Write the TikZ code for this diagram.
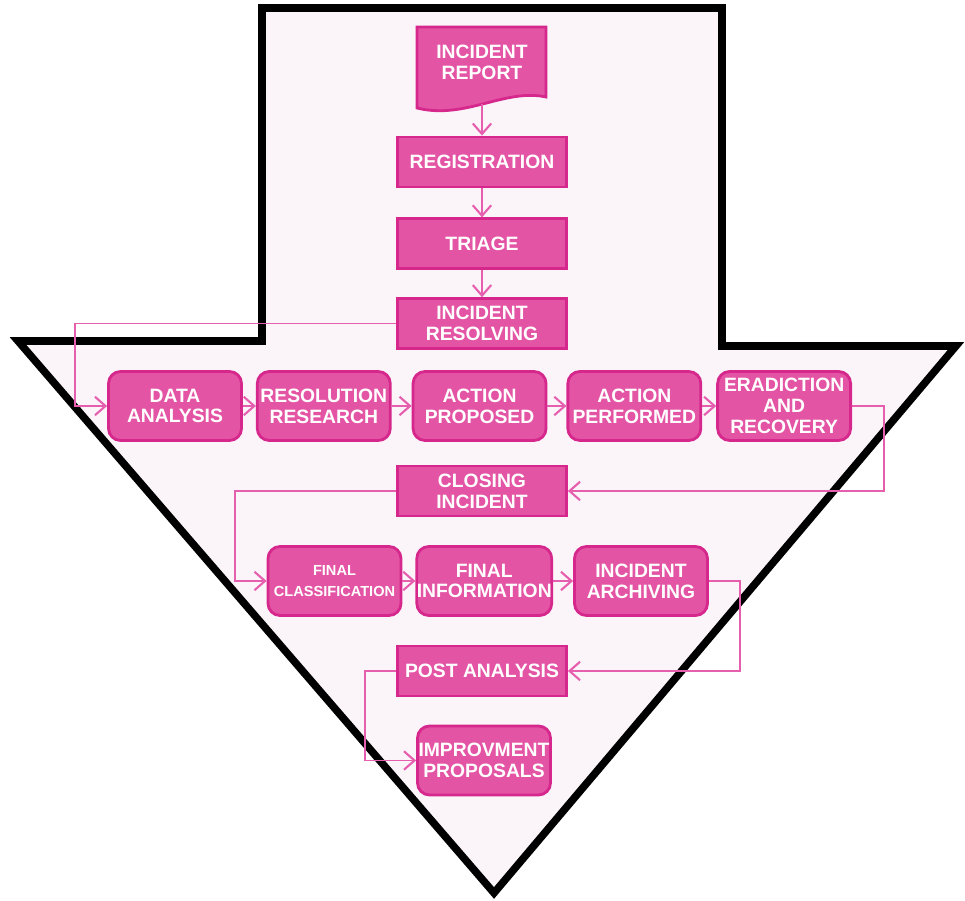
\documentclass[tikz,border=0pt]{standalone}
\usepackage{fontspec}
\setmainfont{Liberation Sans}
\usepackage{xcolor}
\usepackage{tikz}
\usetikzlibrary{arrows.meta,positioning}
\definecolor{boxfill}{RGB}{228,84,164}
\definecolor{boxline}{RGB}{214,40,140}
\definecolor{flowline}{RGB}{230,95,175}
\definecolor{arrowbg}{RGB}{251,245,250}

\begin{document}
\begin{tikzpicture}[x=0.02cm, y=-0.02cm, >={Straight Barb[length=6pt,width=10.5pt,line width=1.2pt]}]

\tikzstyle{stage} = [draw=boxline, fill=boxfill, line width=1.6pt, text=white, font=\bfseries\fontsize{11}{11.8}\selectfont, align=center, minimum width=3.38cm, minimum height=1cm, inner xsep=0pt, inner ysep=1pt]
\tikzstyle{phase} = [stage, rounded corners=0.24cm, minimum width=2.66cm, minimum height=1.38cm]
\tikzstyle{flow} = [draw=flowline, line width=0.7pt]

\useasboundingbox (0,0) rectangle (965,901);

% big down arrow behind everything
\draw [line width=4.3pt, fill=arrowbg, line join=miter] (262,8) -- (722,8) -- (722,346) -- (956,346) -- (494,893) -- (18,341) -- (262,341) -- cycle;

% incident report (document shape)
\filldraw [draw=boxline, fill=boxfill, line width=1.6pt] (417,27) -- (546,27) -- (546,97) .. controls (505,88) and (465,120) .. (417,108) -- cycle;
\node [text=white, font=\bfseries\fontsize{11}{11.8}\selectfont, align=center, minimum width=2.58cm, minimum height=1.4cm] (report) at (482,62) {INCIDENT\\REPORT};

\node [stage] (registration) at (482,162) {REGISTRATION};
\node [stage, below = 0.58cm of registration] (triage) {TRIAGE};
\node [stage, below = 0.54cm of triage] (resolving) {INCIDENT\\RESOLVING};

\node [phase] (data) at (175,406) {DATA\\ANALYSIS};
\node [phase, right = 0.26cm of data] (research) {RESOLUTION\\RESEARCH};
\node [phase, right = 0.4cm of research] (proposed) {ACTION\\PROPOSED};
\node [phase, right = 0.38cm of proposed] (performed) {ACTION\\PERFORMED};
\node [phase, right = 0.28cm of performed] (eradiction) {ERADICTION\\AND\\RECOVERY};

\node [stage] (closing) at (482,491) {CLOSING\\INCIDENT};

\node [phase, font=\bfseries\fontsize{8.3}{11.8}\selectfont] (classification) at (334.5,581) {FINAL\\CLASSIFICATION};
\node [phase, right = 0.26cm of classification] (information) {FINAL\\INFORMATION};
\node [phase, right = 0.4cm of information] (archiving) {INCIDENT\\ARCHIVING};

\node [stage] (post) at (482,671) {POST ANALYSIS};
\node [phase] (improvment) at (484,760.5) {IMPROVMENT\\PROPOSALS};

% connectors
\draw [flow, ->] ([yshift=-0.14cm]report.south) -- (registration);
\draw [flow, ->] (registration) -- (triage);
\draw [flow, ->] (triage) -- (resolving);
\draw [flow, ->] (resolving.west) -- ++(-321,0) |- (data.west);
\foreach \a/\b in {data/research, research/proposed, proposed/performed, performed/eradiction, classification/information, information/archiving}
  \draw [flow, ->] (\a) -- (\b);
\draw [flow, ->] (eradiction.east) -- ++(32,0) |- (closing.east);
\draw [flow, ->] (closing.west) -- ++(-161,0) |- (classification.west);
\draw [flow, ->] (archiving.east) -- ++(31,0) |- (post.east);
\draw [flow, ->] (post.west) -- ++(-31,0) |- (improvment.west);
\end{tikzpicture}
\end{document}
